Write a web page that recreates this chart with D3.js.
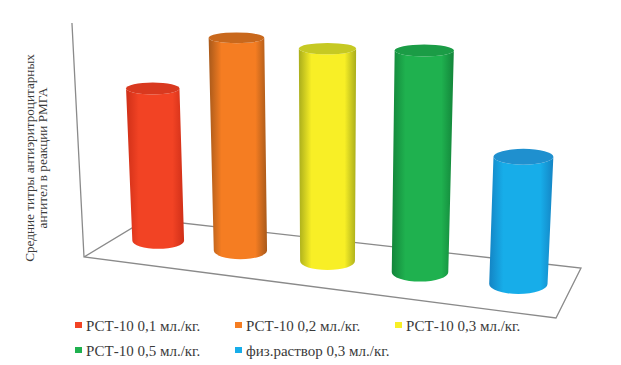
<!DOCTYPE html>
<html>
<head>
<meta charset="utf-8">
<script src="https://cdn.jsdelivr.net/npm/d3@7"></script>
<style>
html, body { margin: 0; padding: 0; background: #fff; }
svg { display: block; }
text { font-family: "Liberation Serif", serif; fill: #3a3a3a; }
</style>
</head>
<body>
<script>
var categories = ['РСТ-10 0,1 мл./кг.', 'РСТ-10 0,2 мл./кг.', 'РСТ-10 0,3 мл./кг.', 'РСТ-10 0,5 мл./кг.', 'физ.раствор 0,3 мл./кг.'];
var values = [6.0, 8.15, 7.9, 8.0, 4.45]; // no tick labels in the source
var yMax = 8.9;
var yLabel = ['Средние титры антиэритроцитарных', 'антител в реакции РМГА'];

var bodyColors = ['#f24324', '#f57d22', '#f8ef26', '#1fb14f', '#17ade9'];
var edgeColors = ['#cf2f18', '#a8591a', '#a9ad1c', '#13853a', '#1484c4'];
var topColors = ['#d9391f', '#c9681c', '#c6c923', '#1b9c46', '#1f90cf'];

var width = 621, height = 365;

// floor of the 3d box as it lands on the picture
var floorFL = [84, 257], floorBL = [147, 219], floorBR = [581, 268], floorFR = [556, 318];
var leanCenter = 329, leanDepth = 4760;
var rowDepth = 0.53; // bars sit just behind the middle of the floor

var svg = d3.select('body').append('svg')
	.attr('width', width)
	.attr('height', height);

// square to quad homography, u along the front edge, v towards the back
function makeFloor(p0, p1, p2, p3){
	var dx1 = p1[0] - p2[0], dx2 = p3[0] - p2[0], sx = p0[0] - p1[0] + p2[0] - p3[0];
	var dy1 = p1[1] - p2[1], dy2 = p3[1] - p2[1], sy = p0[1] - p1[1] + p2[1] - p3[1];
	var det = dx1*dy2 - dx2*dy1;
	var g = (sx*dy2 - dx2*sy)/det;
	var h = (dx1*sy - sx*dy1)/det;
	var a = p1[0] - p0[0] + g*p1[0], b = p3[0] - p0[0] + h*p3[0], c = p0[0];
	var d = p1[1] - p0[1] + g*p1[1], e = p3[1] - p0[1] + h*p3[1], f = p0[1];
	return function(s, t){
		var w = g*s + h*t + 1;
		return {x: (a*s + b*t + c)/w, y: (d*s + e*t + f)/w, w: w};
	};
}
// corners go front-left, front-right, back-right, back-left
var floor = makeFloor(floorFL, floorFR, floorBR, floorBL);
var centerW = floor(0.5, 0.5).w;

var uScale = d3.scalePoint().domain(categories).range([0, 1]).padding(0.5);
var yScale = d3.scaleLinear().domain([0, yMax]).range([0, 240]);
var radiusScale = d3.scaleLinear().domain([0, 1]).range([0, 27.5]);

function lift(x, h){
	return x + (x - leanCenter)*h/leanDepth;
}
function tilt(y){
	return 0.17 + y*0.0006;
}

// axes
var lineGen = d3.line();
var axisH = yScale(yMax)*centerW/floor(0, 0).w;
svg.append('path')
	.attr('d', lineGen([[lift(floorFL[0], axisH), floorFL[1] - axisH], floorFL, floorFR, floorBR, floorBL, floorFL]))
	.attr('fill', 'none')
	.attr('stroke', '#8a8a8a')
	.attr('stroke-width', 1.3);

// shading
var defs = svg.append('defs');
categories.forEach(function(c, i){
	var grad = defs.append('linearGradient')
		.attr('id', 'cyl' + i)
		.attr('x1', 0).attr('x2', 1).attr('y1', 0).attr('y2', 0);
	var stops = [[0, edgeColors[i]], [0.22, bodyColors[i]], [0.55, bodyColors[i]], [0.8, bodyColors[i]], [1, edgeColors[i]]];
	stops.forEach(function(s){
		grad.append('stop').attr('offset', s[0]).attr('stop-color', s[1]);
	});
});

// cylinders
categories.forEach(function(c, i){
	var base = floor(uScale(c), rowDepth);
	var depth = centerW/base.w;
	var h = yScale(values[i])*depth;
	var rx0 = radiusScale(1)*depth;
	var ry0 = rx0*tilt(base.y);
	var topY = base.y - h;
	var topX = lift(base.x, h);
	var rx1 = rx0*(1 + h/leanDepth);
	var ry1 = rx1*tilt(topY);

	var d = 'M' + (topX - rx1) + ',' + topY +
		'L' + (base.x - rx0) + ',' + base.y +
		'A' + rx0 + ',' + ry0 + ' 0 0 0 ' + (base.x + rx0) + ',' + base.y +
		'L' + (topX + rx1) + ',' + topY +
		'A' + rx1 + ',' + ry1 + ' 0 0 1 ' + (topX - rx1) + ',' + topY + 'Z';

	svg.append('path')
		.attr('class', 'cyl')
		.attr('d', d)
		.attr('fill', 'url(#cyl' + i + ')');
	svg.append('ellipse')
		.attr('cx', topX).attr('cy', topY)
		.attr('rx', rx1).attr('ry', ry1)
		.attr('fill', topColors[i]);
});

// y axis title
svg.append('g')
	.attr('transform', 'translate(34,158) rotate(-90)')
	.selectAll('text')
	.data(yLabel).enter()
	.append('text')
		.attr('text-anchor', 'middle')
		.attr('y', function(d, i){ return i*12.5; })
		.style('font-size', '13.2px')
		.text(function(d){ return d; });

// legend
var legendCols = [75, 235, 395], legendRows = [331, 356];
categories.forEach(function(c, i){
	var g = svg.append('g')
		.attr('transform', 'translate(' + legendCols[i % 3] + ',' + legendRows[Math.floor(i/3)] + ')');
	g.append('rect')
		.attr('x', 0).attr('y', -9)
		.attr('width', 7).attr('height', 6)
		.attr('fill', bodyColors[i]);
	g.append('text')
		.attr('x', 11)
		.style('font-size', '15px')
		.text(c);
});
</script>
</body>
</html>
